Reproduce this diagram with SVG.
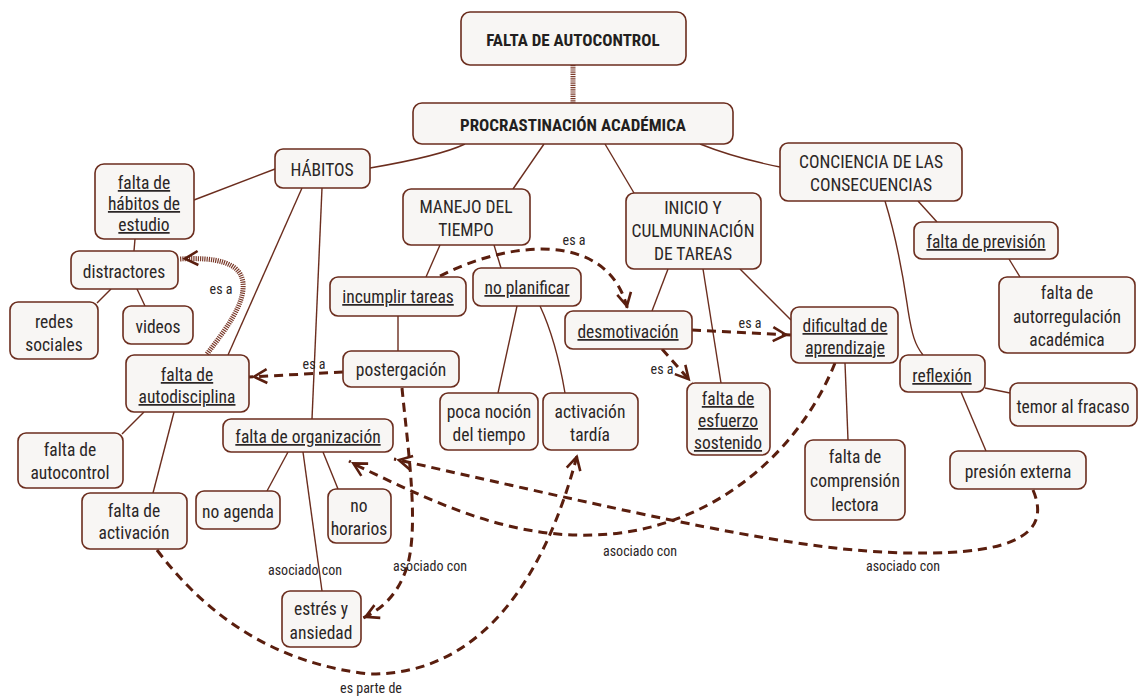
<svg xmlns="http://www.w3.org/2000/svg" width="1138" height="696" viewBox="0 0 1138 696">
<style>
.n rect{fill:#f8f6f4;stroke:#6b2d1e;stroke-width:1.6}
.n text,.lbl{font-family:"Liberation Sans Narrow","Roboto Condensed","DejaVu Sans Condensed","Liberation Sans",sans-serif;fill:#2b2626;text-anchor:middle}
.n text{font-size:17.5px}
.n text.b{font-weight:bold;font-size:17px;fill:#231f20}
.n text.u{text-decoration:underline}
.lbl{font-size:14px}
.s{fill:none;stroke:#6b2d1e;stroke-width:1.4}
.d{fill:none;stroke:#5a1e0e;stroke-width:3;stroke-dasharray:9 6}
.h{fill:none;stroke:#7a3a2a;stroke-width:5;stroke-dasharray:1.2 1}
</style>
<defs>
<marker id="chev" markerUnits="userSpaceOnUse" markerWidth="26" markerHeight="20" viewBox="-16 -10 26 20" refX="5" refY="0" orient="auto">
<path d="M-13,-7 L0,0 L-13,7" fill="none" stroke="#5a1e0e" stroke-width="2.6"/>
</marker>
</defs>
<g id="connectors">
<path class="h" d="M573,65 L573,103"/>
<path class="s" d="M465,144 Q440,156 370,168"/>
<path class="s" d="M275,169 L194,200"/>
<path class="s" d="M135,239 L134,251"/>
<path class="s" d="M111,289 L97,303"/>
<path class="s" d="M137,289 L145,306"/>
<path class="s" d="M302,188 L228,355"/>
<path class="s" d="M322,188 L312,419"/>
<path class="s" d="M144,412 L122,434"/>
<path class="s" d="M174,412 L153,493"/>
<path class="s" d="M288,452 L267,491"/>
<path class="s" d="M323,452 L338,489"/>
<path class="s" d="M303,452 L322,591"/>
<path class="s" d="M544,144 L513,189"/>
<path class="s" d="M440,245 L426,277"/>
<path class="s" d="M494,245 L501,268"/>
<path class="s" d="M398,316 L398,351"/>
<path class="s" d="M517,306 L498,393"/>
<path class="s" d="M540,306 Q556,340 565,393"/>
<path class="s" d="M605,144 L634,193"/>
<path class="s" d="M668,269 L652,311"/>
<path class="s" d="M703,269 L721,383"/>
<path class="s" d="M740,269 L791,320"/>
<path class="s" d="M845,363 L848,440"/>
<path class="s" d="M700,144 Q735,158 780,167"/>
<path class="s" d="M918,201 L937,222"/>
<path class="s" d="M885,201 C900,250 905,290 908,310 C912,335 915,345 923,355"/>
<path class="s" d="M1009,259 L1020,277"/>
<path class="s" d="M985,388 L1010,393"/>
<path class="s" d="M961,392 L986,451"/>
<path class="h" d="M207,354 C225,330 245,305 243,283 C241,262 215,257 180,259" marker-end="url(#chev)"/>
<path class="d" d="M440,276 C510,240 610,230 628,311" marker-end="url(#chev)"/>
<path class="d" d="M692,330 L791,335" marker-end="url(#chev)"/>
<path class="d" d="M662,349 L692,383" marker-end="url(#chev)"/>
<path class="d" d="M343,372 L249,377" marker-end="url(#chev)"/>
<path class="d" d="M402,388 C408,450 420,530 406,570 C398,592 385,608 361,619" marker-end="url(#chev)"/>
<path class="d" d="M835,363 C800,450 720,520 620,533 C520,545 440,505 358,466 L349,461" marker-end="url(#chev)"/>
<path class="d" d="M1033,490 C1048,525 1030,552 930,553 C820,555 700,528 403,461 L394,459" marker-end="url(#chev)"/>
<path class="d" d="M157,550 Q240,660 370,674 C480,675 545,580 578,452" marker-end="url(#chev)"/>
<text class="lbl" x="574" y="245">es a</text>
<text class="lbl" x="750" y="328">es a</text>
<text class="lbl" x="662" y="374">es a</text>
<text class="lbl" x="314" y="369">es a</text>
<text class="lbl" x="221" y="294">es a</text>
<text class="lbl" x="305" y="575">asociado con</text>
<text class="lbl" x="430" y="571">asociado con</text>
<text class="lbl" x="640" y="556">asociado con</text>
<text class="lbl" x="903" y="571">asociado con</text>
<text class="lbl" x="371" y="693">es parte de</text>
</g>
<g id="n-falta-autocontrol-top" class="n"><rect x="461" y="12" width="225" height="53" rx="9"/><text class="b" x="573" y="46">FALTA DE AUTOCONTROL</text></g>
<g id="n-procrastinacion" class="n"><rect x="413" y="103" width="320" height="41" rx="9"/><text class="b" x="573" y="131">PROCRASTINACIÓN ACADÉMICA</text></g>
<g id="n-habitos" class="n"><rect x="275" y="149" width="95" height="39" rx="8"/><text x="322" y="176">HÁBITOS</text></g>
<g id="n-habitos-estudio" class="n"><rect x="95" y="164" width="99" height="75" rx="9"/><text class="u" x="144" y="189">falta de</text><text class="u" x="144" y="210">hábitos de</text><text class="u" x="144" y="231">estudio</text></g>
<g id="n-distractores" class="n"><rect x="71" y="251" width="107" height="38" rx="8"/><text x="124" y="278">distractores</text></g>
<g id="n-redes" class="n"><rect x="10" y="302" width="88" height="57" rx="8"/><text x="54" y="328">redes</text><text x="54" y="351">sociales</text></g>
<g id="n-videos" class="n"><rect x="123" y="306" width="70" height="38" rx="8"/><text x="158" y="333">videos</text></g>
<g id="n-autodisciplina" class="n"><rect x="126" y="355" width="123" height="57" rx="8"/><text class="u" x="187" y="381">falta de</text><text class="u" x="187" y="403">autodisciplina</text></g>
<g id="n-autocontrol" class="n"><rect x="18" y="433" width="105" height="55" rx="8"/><text x="70" y="456">falta de</text><text x="70" y="479">autocontrol</text></g>
<g id="n-activacion" class="n"><rect x="82" y="493" width="105" height="56" rx="8"/><text x="134" y="517">falta de</text><text x="134" y="539">activación</text></g>
<g id="n-organizacion" class="n"><rect x="223" y="419" width="170" height="33" rx="8"/><text class="u" x="308" y="443">falta de organización</text></g>
<g id="n-no-agenda" class="n"><rect x="196" y="491" width="84" height="38" rx="8"/><text x="238" y="518">no agenda</text></g>
<g id="n-no-horarios" class="n"><rect x="328" y="489" width="63" height="54" rx="8"/><text x="359" y="512">no</text><text x="359" y="535">horarios</text></g>
<g id="n-estres" class="n"><rect x="282" y="591" width="79" height="56" rx="8"/><text x="321" y="615">estrés y</text><text x="321" y="639">ansiedad</text></g>
<g id="n-manejo" class="n"><rect x="403" y="189" width="127" height="56" rx="8"/><text x="466" y="213">MANEJO DEL</text><text x="466" y="236">TIEMPO</text></g>
<g id="n-incumplir" class="n"><rect x="330" y="277" width="136" height="39" rx="8"/><text class="u" x="398" y="303">incumplir tareas</text></g>
<g id="n-no-planificar" class="n"><rect x="473" y="268" width="108" height="38" rx="8"/><text class="u" x="527" y="294">no planificar</text></g>
<g id="n-postergacion" class="n"><rect x="343" y="351" width="116" height="36" rx="8"/><text x="401" y="376">postergación</text></g>
<g id="n-poca-nocion" class="n"><rect x="440" y="393" width="98" height="57" rx="8"/><text x="489" y="418">poca noción</text><text x="489" y="441">del tiempo</text></g>
<g id="n-activacion-tardia" class="n"><rect x="543" y="393" width="95" height="57" rx="8"/><text x="590" y="418">activación</text><text x="590" y="441">tardía</text></g>
<g id="n-inicio" class="n"><rect x="626" y="193" width="135" height="76" rx="8"/><text x="693" y="214">INICIO Y</text><text x="693" y="237">CULMUNINACIÓN</text><text x="693" y="260">DE TAREAS</text></g>
<g id="n-desmotivacion" class="n"><rect x="565" y="311" width="127" height="38" rx="8"/><text class="u" x="628" y="338">desmotivación</text></g>
<g id="n-dificultad" class="n"><rect x="791" y="307" width="107" height="56" rx="8"/><text class="u" x="845" y="332">dificultad de</text><text class="u" x="845" y="354">aprendizaje</text></g>
<g id="n-esfuerzo" class="n"><rect x="687" y="383" width="83" height="72" rx="8"/><text class="u" x="728" y="405">falta de</text><text class="u" x="728" y="427">esfuerzo</text><text class="u" x="728" y="449">sostenido</text></g>
<g id="n-comprension" class="n"><rect x="805" y="440" width="100" height="80" rx="8"/><text x="855" y="463">falta de</text><text x="855" y="487">comprensión</text><text x="855" y="511">lectora</text></g>
<g id="n-conciencia" class="n"><rect x="780" y="143" width="182" height="58" rx="8"/><text x="871" y="168">CONCIENCIA DE LAS</text><text x="871" y="191">CONSECUENCIAS</text></g>
<g id="n-prevision" class="n"><rect x="914" y="222" width="144" height="37" rx="8"/><text class="u" x="986" y="248">falta de previsión</text></g>
<g id="n-autorregulacion" class="n"><rect x="999" y="277" width="136" height="76" rx="8"/><text x="1067" y="299">falta de</text><text x="1067" y="323">autorregulación</text><text x="1067" y="346">académica</text></g>
<g id="n-reflexion" class="n"><rect x="900" y="355" width="85" height="37" rx="8"/><text class="u" x="942" y="382">reflexión</text></g>
<g id="n-temor" class="n"><rect x="1010" y="383" width="127" height="43" rx="8"/><text x="1073" y="413">temor al fracaso</text></g>
<g id="n-presion" class="n"><rect x="950" y="451" width="136" height="38" rx="8"/><text x="1018" y="478">presión externa</text></g>
</svg>
